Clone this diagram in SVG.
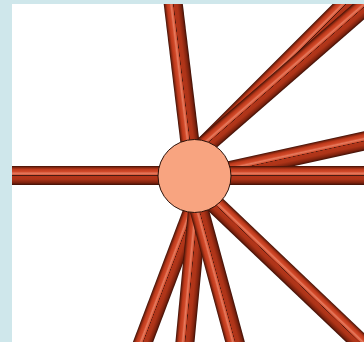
<svg xmlns="http://www.w3.org/2000/svg" width="364" height="342" viewBox="0 0 364 342">
  <style>
    .tube { fill: url(#tubeGrad); }
    .hub { fill: #f8a480; stroke: #2a1008; stroke-width: 1; }
    .frame { fill: #cfe7eb; }
  </style>
  <defs>
    <linearGradient id="tubeGrad" x1="0" y1="0" x2="0" y2="1">
      <stop offset="0" stop-color="#3e1006"/>
      <stop offset="0.08" stop-color="#822610"/>
      <stop offset="0.17" stop-color="#bd391b"/>
      <stop offset="0.3" stop-color="#d24a2a"/>
      <stop offset="0.38" stop-color="#e67a5e"/>
      <stop offset="0.46" stop-color="#d65c3e"/>
      <stop offset="0.49" stop-color="#b3361a"/>
      <stop offset="0.5" stop-color="#4a1a10"/>
      <stop offset="0.53" stop-color="#b3361a"/>
      <stop offset="0.7" stop-color="#ae3418"/>
      <stop offset="0.88" stop-color="#7e220e"/>
      <stop offset="1" stop-color="#3e1006"/>
    </linearGradient>
  </defs>
  <rect class="frame" x="0" y="0" width="364" height="342"/>
  <rect x="12" y="4" width="352" height="338" fill="#ffffff"/>
  <g id="connectors">
    <rect class="tube" x="0" y="-9.5" width="175.3" height="19" transform="translate(194,176) rotate(-96.88)"/>
    <rect class="tube" x="0" y="-9.5" width="226" height="19" transform="translate(195,155) rotate(-45)"/>
    <rect class="tube" x="0" y="-9.5" width="233.2" height="19" transform="translate(196,153) rotate(-41)"/>
    <rect class="tube" x="0" y="-9.5" width="168.9" height="19" transform="translate(205,176) rotate(-12.41)"/>
    <rect class="tube" x="0" y="-9.5" width="226.3" height="19" transform="translate(200,190) rotate(43.57)"/>
    <rect class="tube" x="0" y="-9.5" width="155.1" height="19" transform="translate(140,350) rotate(-69.23)"/>
    <rect class="tube" x="0" y="-9.5" width="145.7" height="19" transform="translate(184.2,350) rotate(-84.56)"/>
    <rect class="tube" x="0" y="-9.5" width="155.4" height="19" transform="translate(237.2,350) rotate(-105.18)"/>
    <rect class="tube" x="12" y="166" width="182" height="19"/>
    <rect class="tube" x="194" y="166" width="170" height="19"/>
  </g>
  <g id="node-hub">
    <circle class="hub" cx="194.5" cy="176" r="36.5"/>
  </g>
  <rect class="frame" x="0" y="0" width="12" height="342"/>
  <rect class="frame" x="0" y="0" width="364" height="4"/>
</svg>
